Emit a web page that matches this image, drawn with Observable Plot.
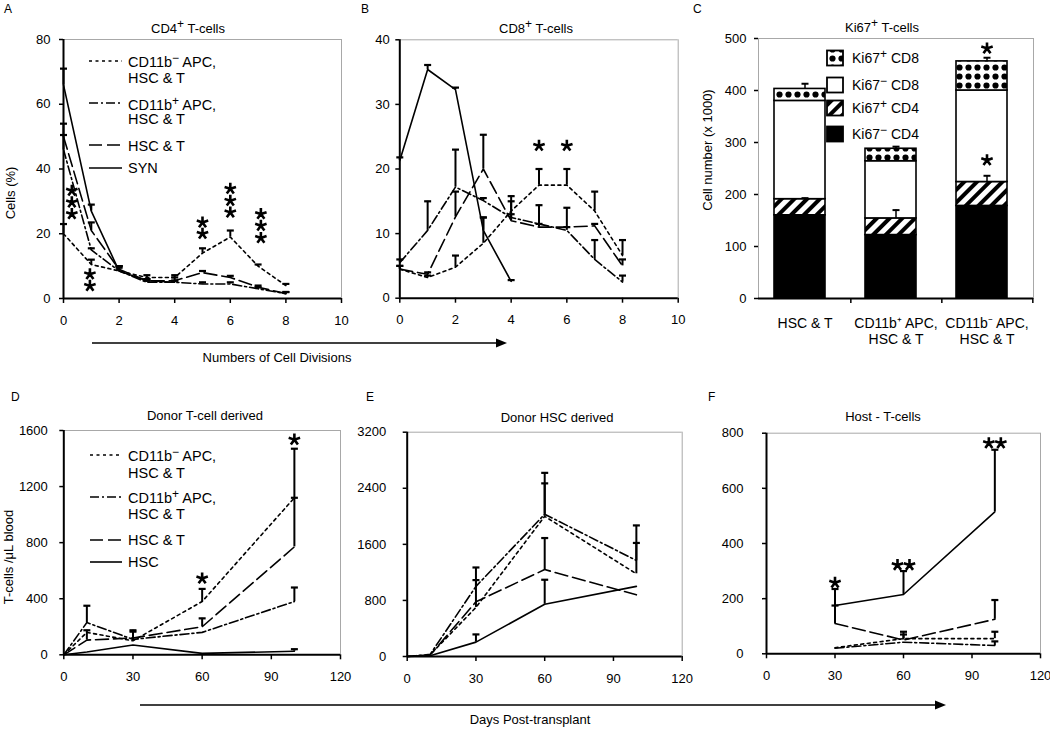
<!DOCTYPE html>
<html>
<head>
<meta charset="utf-8">
<script src="https://cdn.jsdelivr.net/npm/d3@7"></script>
<script src="https://cdn.jsdelivr.net/npm/@observablehq/plot@0.6"></script>
<style>
  html, body { margin: 0; padding: 0; background: #fff; overflow: hidden; }
  #fig { position: relative; width: 1050px; height: 729px; overflow: hidden; font-family: "Liberation Sans", Arial, Helvetica, sans-serif; }
  .panel { position: absolute; }
  #overlay { position: absolute; left: 0; top: 0; z-index: 5; pointer-events: none; }
</style>
</head>
<body>
<svg width="0" height="0" style="position:absolute">
  <defs>
    <pattern id="hatchC" patternUnits="userSpaceOnUse" width="9" height="9" patternTransform="rotate(45)">
      <rect width="9" height="9" fill="white"/><rect width="4" height="9" fill="black"/>
    </pattern>
    <pattern id="dotsC" patternUnits="userSpaceOnUse" width="9" height="9">
      <rect width="9" height="9" fill="white"/><circle cx="4.5" cy="4.5" r="3.1" fill="black"/>
    </pattern>
  </defs>
</svg>
<div id="fig"></div>
<script>
// ===================== DATA =====================
// Panel A — CD4+ T-cells (% cells) by number of cell divisions
const divisions      = [0, 1, 2, 3, 4, 5, 6, 7, 8];
const synDivisions   = [0, 1, 2, 3, 4];
const cd4Cd11bNeg    = [20, 10.5, 8.5, 6.5, 6.5, 14, 19, 10, 4];
const cd4Cd11bNegErr = [23, 12, 10, 7.2, 7.2, 15.5, 21, 10.5, 4.5];
const cd4Cd11bPos    = [46, 15, 8.5, 5, 5, 4.5, 4.5, 3, 1.5];
const cd4Cd11bPosErr = [50.5, 15.5, 9.5, 5.5, 5.5, 5, 5, 3.5, 2];
const cd4HscT        = [50, 21, 9, 5.5, 5.5, 8, 6.5, 3.5, 1.5];
const cd4HscTErr     = [54, 23.5, 10, 6, 6.5, 8.5, 7, 4, 2];
const cd4Syn         = [66, 27, 8.5, 5.5, 5];
const cd4SynErr      = [71, 29, 10, 6, 5.5];
// significance stars (one entry per star)
const cd4StarX = [0.3, 0.3, 0.3, 0.95, 0.95, 5, 5, 6, 6, 6, 7.1, 7.1, 7.1];
const cd4StarY = [33.3, 29.7, 26.1, 7.5, 3.9, 23.5, 20, 33.9, 30.2, 26.6, 26.1, 22.5, 18.7];

// Panel B — CD8+ T-cells
const cd8Cd11bNeg    = [4.5, 3.2, 4.8, 8.5, 13.5, 17.5, 17.5, 13.5, 6.6];
const cd8Cd11bNegErr = [5, 3.5, 6.6, 12.5, 15.8, 20, 20, 16.5, 9];
const cd8Cd11bPos    = [5.5, 10.5, 17.2, 15.1, 12.5, 11.5, 10.5, 6, 2.5];
const cd8Cd11bPosErr = [6, 15, 23, 15.5, 13, 14.4, 11, 9, 3.5];
const cd8HscT        = [4.5, 3.7, 12.6, 20, 12, 11, 11, 11.2, 5];
const cd8HscTErr     = [5, 4, 16.5, 25.3, 15, 11.5, 14, 11.5, 6];
const cd8Syn         = [21.3, 35.4, 32.3, 10.5, 2.6];
const cd8SynErr      = [21.8, 36.1, 32.6, 12.5, 2.8];
const cd8StarX = [5, 6];
const cd8StarY = [23.6, 23.6];

// Panel C — Ki67+ T-cells (cell number x 1000)
const groupsC    = ["HSC & T", "CD11b⁺ APC,\nHSC & T", "CD11b⁻ APC,\nHSC & T"];
const segmentsC  = ["Ki67⁻ CD4", "Ki67⁺ CD4", "Ki67⁻ CD8", "Ki67⁺ CD8"];
const ki67negCD4 = [160, 122, 178];
const ki67posCD4 = [31, 32, 46];
const ki67negCD8 = [189, 110, 176];
const ki67posCD8 = [23, 24, 56];
const errCD4C    = [2, 16, 12];
const errTotalC  = [10, 4, 7];
const starCGroup = [2, 2];
const starCY     = [481, 266];

// Panel D — Donor T-cell derived (T-cells / µL blood)
const daysD        = [0, 10, 30, 60, 100];
const dCd11bNeg    = [0, 160, 100, 380, 1120];
const dCd11bNegErr = [0, 160, 165, 470, 1470];
const dCd11bPos    = [0, 230, 110, 160, 380];
const dCd11bPosErr = [0, 350, 175, 160, 480];
const dHscT        = [0, 105, 120, 200, 770];
const dHscTErr     = [0, 175, 120, 260, 1120];
const dHsc         = [0, 20, 70, 10, 25];
const dHscErr      = [0, 20, 70, 10, 40];
const dStarX = [60, 100];
const dStarY = [545, 1535];

// Panel E — Donor HSC derived
const daysE        = [0, 10, 30, 60, 100];
const eCd11bNeg    = [0, 25, 700, 2000, 1180];
const eCd11bNegErr = [0, 25, 1090, 2470, 1620];
const eCd11bPos    = [0, 30, 1000, 2030, 1370];
const eCd11bPosErr = [0, 30, 1270, 2620, 1870];
const eHscT        = [0, 20, 780, 1240, 880];
const eHscTErr     = [0, 20, 780, 1690, 880];
const eHsc         = [0, 10, 205, 745, 1000];
const eHscErr      = [0, 10, 315, 1095, 1000];

// Panel F — Host T-cells
const daysF        = [30, 60, 100];
const fHsc         = [175, 215, 515];
const fHscErr      = [235, 300, 740];
const fHscT        = [110, 50, 125];
const fHscTErr     = [175, 80, 195];
const fCd11bNeg    = [22, 55, 55];
const fCd11bNegErr = [22, 70, 80];
const fCd11bPos    = [20, 42, 30];
const fCd11bPosErr = [20, 42, 45];
const fStarX = [30, 60, 100];
const fStarY = [258, 322, 764];
const fStarN = [1, 2, 2];

// ===================== STYLE =====================
const FONT = "'Liberation Sans', Arial, Helvetica, sans-serif";
const DASH = { neg: "3,3.5", pos: "9,3,2,3", hscT: "13,5", solid: null };
const FRAME = "#a8a8a8";
const capSymbol = { draw(ctx) { ctx.moveTo(-3.5, 0); ctx.lineTo(3.5, 0); } };
const starSymbol = { draw(ctx) {
  for (let k = 0; k < 5; k++) {
    const a = -Math.PI / 2 + k * 2 * Math.PI / 5;
    ctx.moveTo(0, 0); ctx.lineTo(6 * Math.cos(a), 6 * Math.sin(a));
  }
} };
const plainInt = d => String(d);

const fig = document.getElementById("fig");
function place(el, left, top, w) {
  const d = document.createElement("div");
  d.className = "panel";
  d.style.left = left + "px"; d.style.top = top + "px"; d.style.width = w + "px";
  d.appendChild(el); fig.appendChild(d);
}
function rows(xs, ys, his) { return xs.map((x, i) => ({ x, y: ys[i], hi: his[i] })); }
function starRows(xs, ys, ns) { return xs.map((x, i) => ({ x, y: ys[i], n: ns ? ns[i] : 1 })); }
const starStyle = { symbol: starSymbol, stroke: "black", strokeWidth: 2.6 };

function linePanel(c) {
  const marks = [
    Plot.ruleY([c.yDomain[1]], { stroke: FRAME, strokeWidth: 1 }),
    Plot.ruleX([c.xDomain[1]], { stroke: FRAME, strokeWidth: 1 })
  ];
  for (const s of c.series) {
    marks.push(Plot.line(s.data, { x: "x", y: "y", stroke: "black", strokeWidth: 1.6, strokeDasharray: s.dash }));
    const e = s.data.filter(d => d.hi > d.y);
    marks.push(Plot.ruleX(e, { x: "x", y1: "y", y2: "hi", stroke: "black", strokeWidth: 2 }));
    marks.push(Plot.dot(e, { x: "x", y: "hi", symbol: capSymbol, stroke: "black", strokeWidth: 2.2 }));
  }
  marks.push(Plot.ruleX([c.xDomain[0]], { stroke: "black", strokeWidth: 2 }));
  marks.push(Plot.ruleY([c.yDomain[0]], { stroke: "black", strokeWidth: 2 }));
  marks.push(Plot.axisX({ ticks: c.xTicks, tickFormat: plainInt, tickSize: 5, tickPadding: c.xPad, fontSize: 13, label: null, strokeWidth: 1.5 }));
  marks.push(Plot.axisY({ ticks: c.yTicks, tickFormat: plainInt, tickSize: 4, tickPadding: c.yPad, fontSize: 13, label: null, strokeWidth: 1.5 }));
  if (c.stars) {
    marks.push(Plot.dot(c.stars.filter(d => d.n === 1), { x: "x", y: "y", ...starStyle }));
    marks.push(Plot.dot(c.stars.filter(d => d.n === 2), { x: "x", y: "y", dx: -6, ...starStyle }));
    marks.push(Plot.dot(c.stars.filter(d => d.n === 2), { x: "x", y: "y", dx: 6, ...starStyle }));
  }
  return Plot.plot({
    width: c.W, height: c.H,
    marginLeft: c.mL, marginRight: c.mR, marginTop: c.mT, marginBottom: c.mB,
    x: { domain: c.xDomain }, y: { domain: c.yDomain },
    style: { fontFamily: FONT, fontSize: "13px", background: "transparent", overflow: "visible" },
    marks
  });
}

// ---------- Panel A ----------
place(linePanel({
  W: 350, H: 345, mL: 63, mR: 9, mT: 39, mB: 47,
  xDomain: [0, 10], yDomain: [0, 80], xTicks: d3.range(0, 11, 2), yTicks: d3.range(0, 81, 20),
  xPad: 12, yPad: 9,
  series: [
    { data: rows(divisions, cd4Cd11bNeg, cd4Cd11bNegErr), dash: DASH.neg },
    { data: rows(divisions, cd4Cd11bPos, cd4Cd11bPosErr), dash: DASH.pos },
    { data: rows(divisions, cd4HscT, cd4HscTErr), dash: DASH.hscT },
    { data: rows(synDivisions, cd4Syn, cd4SynErr), dash: DASH.solid }
  ],
  stars: starRows(cd4StarX, cd4StarY)
}), 0, 0, 350);

// ---------- Panel B ----------
place(linePanel({
  W: 350, H: 345, mL: 59.3, mR: 12.3, mT: 39.3, mB: 47.3,
  xDomain: [0, 10], yDomain: [0, 40], xTicks: d3.range(0, 11, 2), yTicks: d3.range(0, 41, 10),
  xPad: 12, yPad: 6,
  series: [
    { data: rows(divisions, cd8Cd11bNeg, cd8Cd11bNegErr), dash: DASH.neg },
    { data: rows(divisions, cd8Cd11bPos, cd8Cd11bPosErr), dash: DASH.pos },
    { data: rows(divisions, cd8HscT, cd8HscTErr), dash: DASH.hscT },
    { data: rows(synDivisions, cd8Syn, cd8SynErr), dash: DASH.solid }
  ],
  stars: starRows(cd8StarX, cd8StarY)
}), 340, 0, 350);

// ---------- Panel C ----------
{
  const segVals = [ki67negCD4, ki67posCD4, ki67negCD8, ki67posCD8];
  const bars = [];
  groupsC.forEach((g, i) => segmentsC.forEach((s, j) => bars.push({ group: g, segment: s, value: segVals[j][i] })));
  const errs = [];
  groupsC.forEach((g, i) => {
    const cd4Top = ki67negCD4[i] + ki67posCD4[i];
    const total = d3.sum(segVals, v => v[i]);
    errs.push({ group: g, y: cd4Top, hi: cd4Top + errCD4C[i] });
    errs.push({ group: g, y: total, hi: total + errTotalC[i] });
  });
  const starsC = starCGroup.map((gi, k) => ({ group: groupsC[gi], y: starCY[k] }));
  const step = (1033 - 758) / 3;
  const plotC = Plot.plot({
    width: 360, height: 345, marginLeft: 68, marginRight: 17, marginTop: 38, marginBottom: 47,
    x: { type: "band", domain: groupsC, paddingInner: 0.44, paddingOuter: 0.22 },
    y: { domain: [0, 500] },
    color: { domain: segmentsC, range: ["black", "url(#hatchC)", "white", "url(#dotsC)"] },
    style: { fontFamily: FONT, fontSize: "13px", background: "transparent", overflow: "visible" },
    marks: [
      Plot.frame({ stroke: FRAME, strokeWidth: 1 }),
      Plot.barY(bars, { x: "group", y: "value", fill: "segment", stroke: "black", strokeWidth: 1.6, dx: -5 }),
      Plot.ruleX(errs, { x: "group", y1: "y", y2: "hi", stroke: "black", strokeWidth: 1.5 }),
      Plot.dot(errs, { x: "group", y: "hi", symbol: capSymbol, stroke: "black", strokeWidth: 2 }),
      Plot.dot(starsC, { x: "group", y: "y", ...starStyle }),
      Plot.ruleX([0], { frameAnchor: "left", stroke: "black", strokeWidth: 2 }),
      Plot.ruleY([0], { stroke: "black", strokeWidth: 2 }),
      Plot.axisY({ ticks: d3.range(0, 501, 100), tickFormat: plainInt, tickSize: 4, tickPadding: 8, fontSize: 13, label: null, strokeWidth: 1.5 }),
      Plot.axisX({ tickSize: 5, tickFormat: () => "", dx: step / 2, strokeWidth: 1.5, label: null }),
      Plot.axisX({ tickSize: 0, tickPadding: 18, fontSize: 14, lineHeight: 1.15, label: null })
    ]
  });
  place(plotC, 690, 0, 360);
}

// ---------- Panel D ----------
place(linePanel({
  W: 350, H: 345, mL: 63.3, mR: 10, mT: 70, mB: 50.7,
  xDomain: [0, 120], yDomain: [0, 1600], xTicks: d3.range(0, 121, 30), yTicks: d3.range(0, 1601, 400),
  xPad: 12, yPad: 12,
  series: [
    { data: rows(daysD, dCd11bNeg, dCd11bNegErr), dash: DASH.neg },
    { data: rows(daysD, dCd11bPos, dCd11bPosErr), dash: DASH.pos },
    { data: rows(daysD, dHscT, dHscTErr), dash: DASH.hscT },
    { data: rows(daysD, dHsc, dHscErr), dash: DASH.solid }
  ],
  stars: starRows(dStarX, dStarY)
}), 0, 360, 350);

// ---------- Panel E ----------
place(linePanel({
  W: 350, H: 345, mL: 66.7, mR: 8.3, mT: 71.7, mB: 49,
  xDomain: [0, 120], yDomain: [0, 3200], xTicks: d3.range(0, 121, 30), yTicks: d3.range(0, 3201, 800),
  xPad: 12, yPad: 17,
  series: [
    { data: rows(daysE, eCd11bNeg, eCd11bNegErr), dash: DASH.neg },
    { data: rows(daysE, eCd11bPos, eCd11bPosErr), dash: DASH.pos },
    { data: rows(daysE, eHscT, eHscTErr), dash: DASH.hscT },
    { data: rows(daysE, eHsc, eHscErr), dash: DASH.solid }
  ]
}), 340, 360, 350);

// ---------- Panel F ----------
place(linePanel({
  W: 360, H: 345, mL: 76, mR: 10, mT: 72.7, mB: 51.7,
  xDomain: [0, 120], yDomain: [0, 800], xTicks: d3.range(0, 121, 30), yTicks: d3.range(0, 801, 200),
  xPad: 12, yPad: 19,
  series: [
    { data: rows(daysF, fCd11bNeg, fCd11bNegErr), dash: DASH.neg },
    { data: rows(daysF, fCd11bPos, fCd11bPosErr), dash: DASH.pos },
    { data: rows(daysF, fHscT, fHscTErr), dash: DASH.hscT },
    { data: rows(daysF, fHsc, fHscErr), dash: DASH.solid }
  ],
  stars: starRows(fStarX, fStarY, fStarN)
}), 690, 360, 360);

// ===================== OVERLAY: titles, labels, legends, arrows =====================
const sup = (s) => `<tspan dy="-5" font-size="12">${s}</tspan><tspan dy="5">`;
function lineLegend(x0, x1, tx, items) {
  let out = "";
  for (const it of items) {
    out += `<line x1="${x0}" x2="${x1}" y1="${it.ly}" y2="${it.ly}" stroke="black" stroke-width="1.6" ${it.dash ? `stroke-dasharray="${it.dash}"` : ""}/>`;
    it.lines.forEach(l => {
      const close = l.t.includes("<tspan") ? "</tspan>" : "";
      out += `<text x="${tx}" y="${l.y}" font-size="14.5">${l.t}${close}</text>`;
    });
  }
  return out;
}
const negLbl = `CD11b${sup("−")} APC,`;
const posLbl = `CD11b${sup("+")} APC,`;

let ov = `<svg id="overlay" width="1050" height="729" font-family="${FONT.replace(/'/g, "")}" fill="black">`;
// panel letters
ov += `<g font-size="12"><text x="4" y="13">A</text><text x="361" y="13">B</text><text x="693" y="13">C</text>
<text x="11" y="401">D</text><text x="366" y="401">E</text><text x="708" y="401">F</text></g>`;
// titles
ov += `<g font-size="13" text-anchor="middle">
<text x="188" y="33">CD4${sup("+")} T-cells</tspan></text>
<text x="536" y="33">CD8${sup("+")} T-cells</tspan></text>
<text x="882" y="32">Ki67${sup("+")} T-cells</tspan></text>
<text x="205" y="420">Donor T-cell derived</text>
<text x="557" y="422">Donor HSC derived</text>
<text x="883" y="421">Host - T-cells</text></g>`;
// y labels
ov += `<g font-size="13" text-anchor="middle">
<text transform="translate(15,193) rotate(-90)">Cells (%)</text>
<text transform="translate(712,150) rotate(-90)">Cell number (x 1000)</text>
<text transform="translate(13,557) rotate(-90)">T-cells /μL blood</text></g>`;
// legend A
ov += lineLegend(89, 122, 128, [
  { ly: 61, dash: DASH.neg, lines: [{ y: 67, t: negLbl }, { y: 83, t: "HSC &amp; T" }] },
  { ly: 103, dash: DASH.pos, lines: [{ y: 110, t: posLbl }, { y: 124, t: "HSC &amp; T" }] },
  { ly: 145, dash: DASH.hscT, lines: [{ y: 151, t: "HSC &amp; T" }] },
  { ly: 168, dash: null, lines: [{ y: 173, t: "SYN" }] }
]);
// legend D
ov += lineLegend(90, 122, 128, [
  { ly: 455, dash: DASH.neg, lines: [{ y: 461, t: negLbl }, { y: 478, t: "HSC &amp; T" }] },
  { ly: 497, dash: DASH.pos, lines: [{ y: 503, t: posLbl }, { y: 519, t: "HSC &amp; T" }] },
  { ly: 540, dash: DASH.hscT, lines: [{ y: 545, t: "HSC &amp; T" }] },
  { ly: 562, dash: null, lines: [{ y: 567, t: "HSC" }] }
]);
// legend C
const legC = [
  { fill: "url(#dotsC)", y: 58, t: `Ki67${sup("+")} CD8</tspan>` },
  { fill: "white", y: 85, t: `Ki67${sup("−")} CD8</tspan>` },
  { fill: "url(#hatchC)", y: 108, t: `Ki67${sup("+")} CD4</tspan>` },
  { fill: "black", y: 134, t: `Ki67${sup("−")} CD4</tspan>` }
];
legC.forEach(l => {
  ov += `<rect x="827" y="${l.y - 7.5}" width="16" height="15" fill="${l.fill}" stroke="black" stroke-width="1.8"/>`;
  ov += `<text x="852" y="${l.y + 5}" font-size="14">${l.t}</text>`;
});
// arrows
ov += `<line x1="92" y1="343" x2="498" y2="343" stroke="black" stroke-width="1.6"/><polygon points="496,338.5 507,343 496,347.5" fill="black"/>
<text x="277" y="362" font-size="13" text-anchor="middle">Numbers of Cell Divisions</text>
<line x1="140" y1="705" x2="937" y2="705" stroke="black" stroke-width="1.6"/><polygon points="935,700.5 946,705 935,709.5" fill="black"/>
<text x="530" y="724" font-size="13" text-anchor="middle">Days Post-transplant</text>`;
ov += `</svg>`;
fig.insertAdjacentHTML("beforeend", ov);
</script>
</body>
</html>
